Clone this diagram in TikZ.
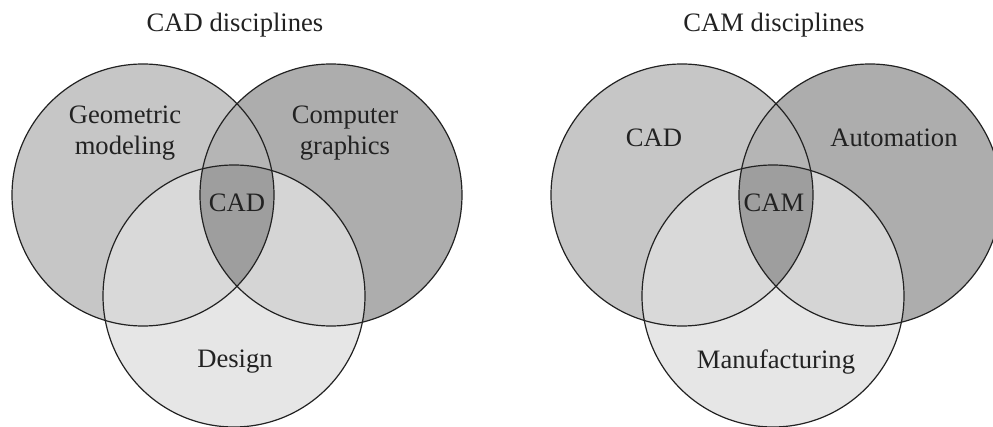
\documentclass[tikz,border=0pt]{standalone}
\usepackage{fontspec}
\setmainfont{Liberation Serif}
\usepackage{tikz}
\usetikzlibrary{positioning}
\definecolor{gmgray}{HTML}{C6C6C6}
\definecolor{cggray}{HTML}{ADADAD}
\definecolor{lensgray}{HTML}{B5B5B5}
\definecolor{dsgray}{HTML}{E6E6E6}
\definecolor{leftgray}{HTML}{D9D9D9}
\definecolor{rightgray}{HTML}{D5D5D5}
\definecolor{coregray}{HTML}{9E9E9E}
\definecolor{ink}{HTML}{222222}

\tikzset{
  ring/.style={draw=ink, line width=0.6pt},
  lbl/.style={text=ink, font=\fontsize{13.3}{15.5}\selectfont, align=center, inner sep=0pt},
}

\begin{document}
\begin{tikzpicture}[x=0.5pt, y=-0.5pt]
\useasboundingbox (0,0) rectangle (993,427);
% circles of both diagrams
\foreach \dx/\pre in {0/cad, 539/cam} {
  \begin{scope}[xshift=\dx*0.5pt]
    \coordinate (\pre-a) at (143,195);
    \coordinate (\pre-b) at (331,195);
    \coordinate (\pre-c) at (234,296);
    \fill[gmgray] (\pre-a) circle[radius=65.5pt];
    \fill[cggray] (\pre-b) circle[radius=65.5pt];
    \begin{scope}
      \clip (\pre-a) circle[radius=65.5pt];
      \fill[lensgray] (\pre-b) circle[radius=65.5pt];
    \end{scope}
    \fill[dsgray] (\pre-c) circle[radius=65.5pt];
    \begin{scope}
      \clip (\pre-c) circle[radius=65.5pt];
      \fill[leftgray] (\pre-a) circle[radius=65.5pt];
      \fill[rightgray] (\pre-b) circle[radius=65.5pt];
      \clip (\pre-a) circle[radius=65.5pt];
      \fill[coregray] (\pre-b) circle[radius=65.5pt];
    \end{scope}
    \draw[ring] (\pre-a) circle[radius=65.5pt];
    \draw[ring] (\pre-b) circle[radius=65.5pt];
    \draw[ring] (\pre-c) circle[radius=65.5pt];
  \end{scope}
}
% CAD disciplines
\node[lbl] (cadtitle) at (235,25) {CAD disciplines};
\node[lbl] (geom) at (125,133) {Geometric\\modeling};
\node[lbl] (graph) at (345,133) {Computer\\graphics};
\node[lbl] (cadcore) at (237,203) {CAD};
\node[lbl] (design) at (235,362) {Design};
% CAM disciplines
\node[lbl] (camtitle) at (774,25) {CAM disciplines};
\node[lbl] (camcad) at (654,138) {CAD};
\node[lbl] (auto) at (894,138) {Automation};
\node[lbl] (camcore) at (774,203) {CAM};
\node[lbl] (manuf) at (776,362) {Manufacturing};
\end{tikzpicture}
\end{document}
